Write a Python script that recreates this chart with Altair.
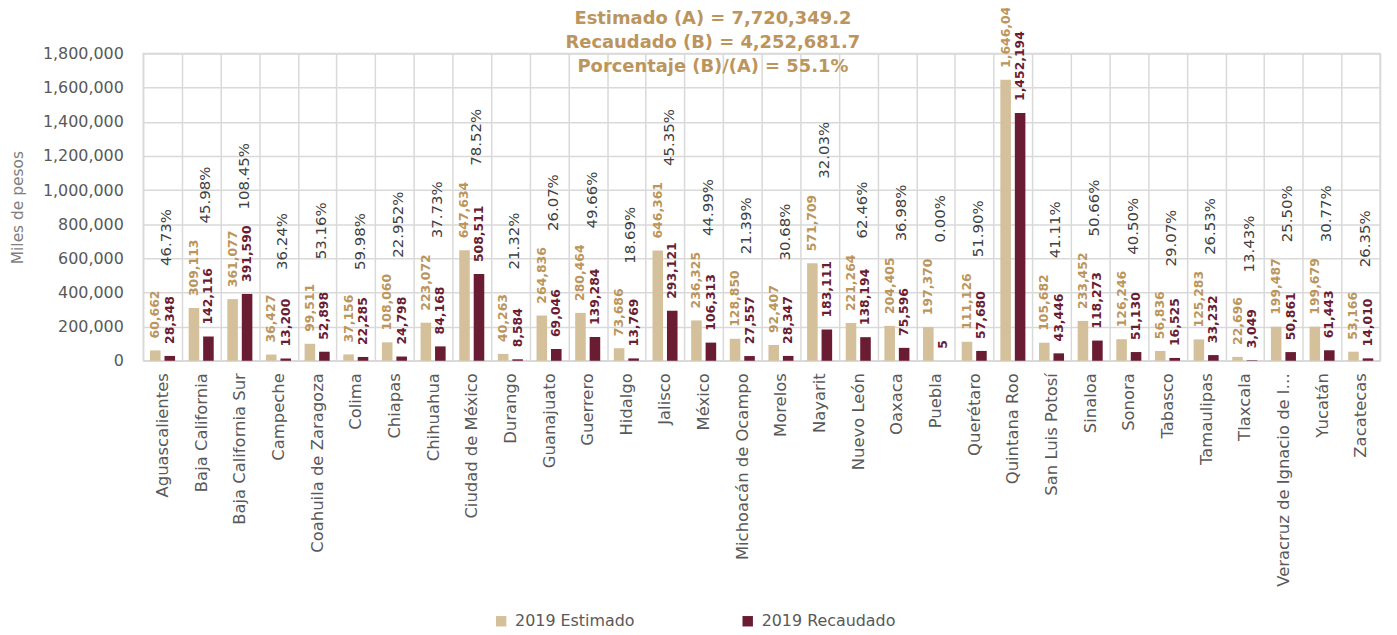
import altair as alt
import pandas as pd

estados = [
    "Aguascalientes", "Baja California", "Baja California Sur", "Campeche",
    "Coahuila de Zaragoza", "Colima", "Chiapas", "Chihuahua", "Ciudad de México",
    "Durango", "Guanajuato", "Guerrero", "Hidalgo", "Jalisco", "México",
    "Michoacán de Ocampo", "Morelos", "Nayarit", "Nuevo León", "Oaxaca", "Puebla",
    "Querétaro", "Quintana Roo", "San Luis Potosí", "Sinaloa", "Sonora", "Tabasco",
    "Tamaulipas", "Tlaxcala", "Veracruz de Ignacio de la Llave", "Yucatán", "Zacatecas",
]
estimado = [
    60662, 309113, 361077, 36427, 99511, 37156, 108060, 223072, 647634,
    40263, 264836, 280464, 73686, 646361, 236325, 128850, 92407, 571709,
    221264, 204405, 197370, 111126, 1646046, 105682, 233452, 126246, 56836,
    125283, 22696, 199487, 199679, 53166,
]
recaudado = [
    28348, 142116, 391590, 13200, 52898, 22285, 24798, 84168, 508511,
    8584, 69046, 139284, 13769, 293121, 106313, 27557, 28347, 183111,
    138194, 75596, 5, 57680, 1452194, 43446, 118273, 51130, 16525,
    33232, 3049, 50861, 61443, 14010,
]
porcentaje = [
    "46.73%", "45.98%", "108.45%", "36.24%", "53.16%", "59.98%", "22.952%",
    "37.73%", "78.52%", "21.32%", "26.07%", "49.66%", "18.69%", "45.35%",
    "44.99%", "21.39%", "30.68%", "32.03%", "62.46%", "36.98%", "0.00%",
    "51.90%", "", "41.11%", "50.66%", "40.50%", "29.07%", "26.53%", "13.43%",
    "25.50%", "30.77%", "26.35%",
]
series = ["2019 Estimado", "2019 Recaudado"]
titulo = [
    "Estimado (A) = 7,720,349.2",
    "Recaudado (B) = 4,252,681.7",
    "Porcentaje (B)/(A) = 55.1%",
]

rows = []
for s, e, r in zip(estados, estimado, recaudado):
    rows.append({"estado": s, "serie": series[0], "valor": e})
    rows.append({"estado": s, "serie": series[1], "valor": r})
long_df = pd.DataFrame(rows)
pct_df = pd.DataFrame({
    "estado": estados,
    "pct": porcentaje,
    "valor": [max(e, r) for e, r in zip(estimado, recaudado)],
})

FONT = "DejaVu Sans"
GRID = "#D9D9D9"
W, H = 1244, 309

x_enc = alt.X(
    "estado:N", sort=estados,
    scale=alt.Scale(paddingInner=0, paddingOuter=0),
    axis=alt.Axis(
        title=None, labelAngle=270, labelFontSize=16.5, labelColor="#595959",
        labelFont=FONT, labelLimit=222, labelPadding=12, ticks=False,
        domain=False, grid=True, tickBand="extent", gridColor=GRID, gridWidth=1.5,
    ),
)
xoff = alt.XOffset("serie:N", sort=series,
                   scale=alt.Scale(paddingInner=0.27, paddingOuter=0.47))
y_enc = alt.Y(
    "valor:Q",
    scale=alt.Scale(domain=[0, 1800000], nice=False),
    axis=alt.Axis(
        values=list(range(0, 1800001, 200000)), format=",d", labelFontSize=16,
        labelColor="#595959", labelFont=FONT, title="Miles de pesos",
        titleFontSize=15.5, titleColor="#7F7F7F", titleFontWeight="normal",
        titleFont=FONT, domain=False, ticks=False, labelPadding=20,
        gridColor=GRID, gridWidth=1.5, titlePadding=17,
    ),
)

bars = alt.Chart(long_df).mark_bar().encode(
    x=x_enc, xOffset=xoff, y=y_enc,
    color=alt.Color(
        "serie:N",
        scale=alt.Scale(domain=series, range=["#D4C19C", "#691C32"]),
        legend=alt.Legend(
            orient="none", legendX=352, legendY=563, direction="horizontal",
            title=None, symbolType="square", symbolSize=110, labelFontSize=16,
            labelColor="#595959", labelFont=FONT, columnPadding=105,
            symbolStrokeWidth=0, labelOffset=6, columns=2,
        ),
    ),
)

def labels(serie, color):
    return alt.Chart(long_df).transform_filter(
        alt.datum.serie == serie
    ).mark_text(
        angle=270, align="left", baseline="middle", dx=12, fontSize=12.5,
        fontWeight="bold", font=FONT, color=color,
    ).encode(
        x=x_enc, xOffset=xoff, y=y_enc,
        text=alt.Text("valor:Q", format=",d"),
    )

pct = alt.Chart(pct_df).mark_text(
    angle=270, align="left", baseline="middle", dx=85, dy=4, fontSize=15,
    font=FONT, color="#404040",
).encode(
    x=x_enc, y=y_enc, text="pct:N",
)

title = alt.Chart(pd.DataFrame({"t": [0]})).mark_text(
    text=titulo, fontSize=18, font=FONT, fontWeight="bold", color="#BC955C",
    align="center", baseline="top", lineHeight=24.5,
).encode(x=alt.value(573), y=alt.value(-44))

chart = alt.layer(
    bars, labels(series[0], "#BC955C"), labels(series[1], "#691C32"), pct, title
).properties(
    width=W, height=H,
    padding={"left": 136, "top": 44, "right": 9, "bottom": 270},
    autosize="none",
).configure_view(stroke=GRID, strokeWidth=1.5)

chart.save("out.html", embed_options={"renderer": "svg", "actions": False})
